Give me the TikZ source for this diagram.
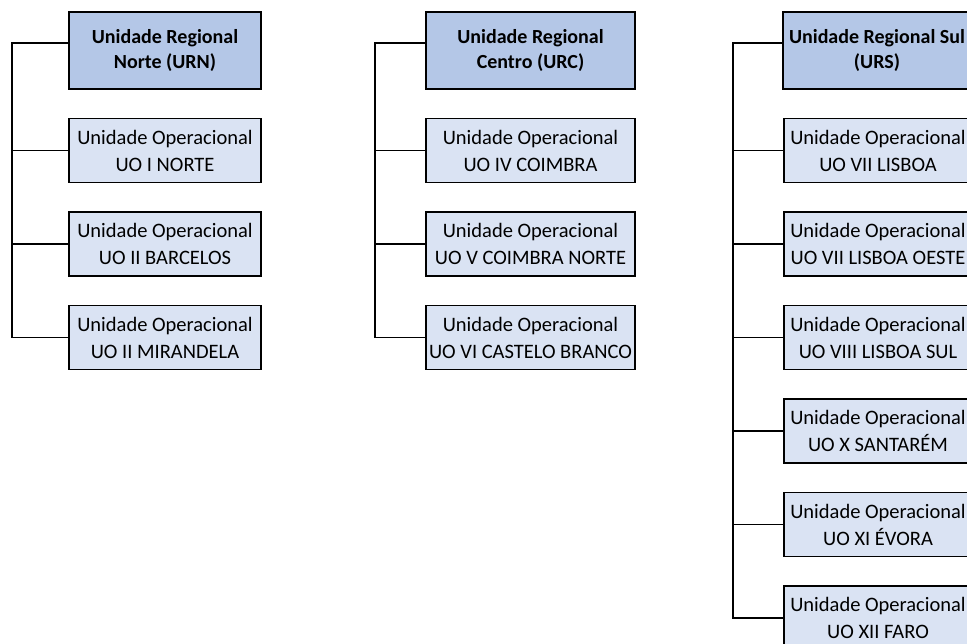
\documentclass[tikz,border=0pt]{standalone}
\usepackage{fontspec}
\setmainfont{Carlito}
\begin{document}
\begin{tikzpicture}[x=1pt,y=-1pt,
  hbox/.style={draw=black,line width=1.6pt,fill=headfill,minimum height=77pt,inner sep=0pt,align=center,font=\fontsize{20}{25}\selectfont\bfseries},
  cbox/.style={draw=black,line width=1.6pt,fill=childfill,minimum height=64pt,inner sep=0pt,align=center,font=\fontsize{20.5}{27}\selectfont},
  conn/.style={line width=1.6pt,line cap=rect}]
\definecolor{headfill}{RGB}{180,199,231}
\definecolor{childfill}{RGB}{218,227,243}
\useasboundingbox (0,0) rectangle (967,644);
\clip (0,0) rectangle (967,644);
% Column Norte
\node[hbox,minimum width=192pt] (hN) at (165,50.5) {Unidade Regional\\Norte (URN)};
\node[cbox,minimum width=192pt] (cN1) at (165,150.5) {Unidade Operacional\\UO I NORTE};
\node[cbox,minimum width=192pt] (cN2) at (165,244) {Unidade Operacional\\UO II BARCELOS};
\node[cbox,minimum width=192pt] (cN3) at (165,337.5) {Unidade Operacional\\UO II MIRANDELA};
\coordinate (tN) at (12,43);
\draw[conn] ([yshift=7.5pt]hN.west) -- (tN) -- (tN |- cN3.west) -- (cN3.west);
\draw[conn] (cN1.west) -- (tN |- cN1.west);
\draw[conn] (cN2.west) -- (tN |- cN2.west);
% Column Centro
\node[hbox,minimum width=209pt] (hC) at (530.5,50.5) {Unidade Regional\\Centro (URC)};
\node[cbox,minimum width=209pt] (cC1) at (530.5,150.5) {Unidade Operacional\\UO IV COIMBRA};
\node[cbox,minimum width=209pt] (cC2) at (530.5,244) {Unidade Operacional\\UO V COIMBRA NORTE};
\node[cbox,minimum width=209pt] (cC3) at (530.5,337.5) {Unidade Operacional\\UO VI CASTELO BRANCO};
\coordinate (tC) at (375,43);
\draw[conn] ([yshift=7.5pt]hC.west) -- (tC) -- (tC |- cC3.west) -- (cC3.west);
\draw[conn] (cC1.west) -- (tC |- cC1.west);
\draw[conn] (cC2.west) -- (tC |- cC2.west);
% Column Sul
\node[hbox,minimum width=188pt] (hS) at (877,50.5) {Unidade Regional Sul\\(URS)};
\node[cbox,minimum width=188pt] (cS1) at (878,150.5) {Unidade Operacional\\UO VII LISBOA};
\node[cbox,minimum width=188pt] (cS2) at (878,244) {Unidade Operacional\\UO VII LISBOA OESTE};
\node[cbox,minimum width=188pt] (cS3) at (878,337.5) {Unidade Operacional\\UO VIII LISBOA SUL};
\node[cbox,minimum width=188pt] (cS4) at (878,431) {Unidade Operacional\\UO X SANTARÉM};
\node[cbox,minimum width=188pt] (cS5) at (878,524.5) {Unidade Operacional\\UO XI ÉVORA};
\node[cbox,minimum width=188pt] (cS6) at (878,618) {Unidade Operacional\\UO XII FARO};
\coordinate (tS) at (733,43);
\draw[conn] ([yshift=7.5pt]hS.west) -- (tS) -- (tS |- cS6.west) -- (cS6.west);
\draw[conn] (cS1.west) -- (tS |- cS1.west);
\draw[conn] (cS2.west) -- (tS |- cS2.west);
\draw[conn] (cS3.west) -- (tS |- cS3.west);
\draw[conn] (cS4.west) -- (tS |- cS4.west);
\draw[conn] (cS5.west) -- (tS |- cS5.west);
\end{tikzpicture}
\end{document}
